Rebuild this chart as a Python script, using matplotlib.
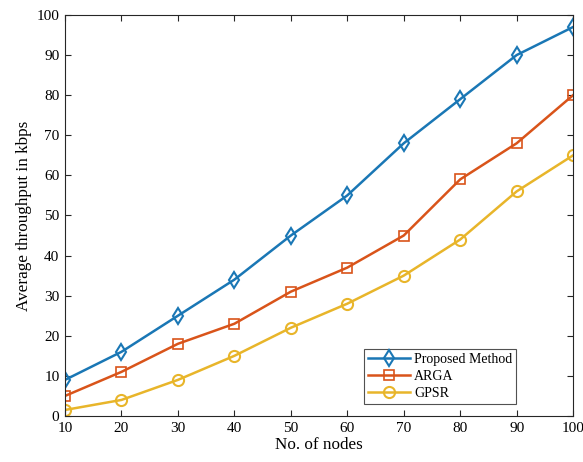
import matplotlib.pyplot as plt

plt.rcParams['font.family'] = ['Liberation Serif', 'DejaVu Serif']

nodes = [10, 20, 30, 40, 50, 60, 70, 80, 90, 100]
proposed = [9, 16, 25, 34, 45, 55, 68, 79, 90, 97]
arga = [5, 11, 18, 23, 31, 37, 45, 59, 68, 80]
gpsr = [1.5, 4, 9, 15, 22, 28, 35, 44, 56, 65]

fig = plt.figure(figsize=(5.83, 4.62), dpi=100)
ax = fig.add_axes([0.1115, 0.0996, 0.8715, 0.868])

ax.plot(nodes, proposed, color='#1a77b5', marker='d', markersize=8,
        markerfacecolor='none', markeredgewidth=1.5, linewidth=1.8, label='Proposed Method')
ax.plot(nodes, arga, color='#d9541a', marker='s', markersize=7,
        markerfacecolor='none', markeredgewidth=1.2, linewidth=1.8, label='ARGA')
ax.plot(nodes, gpsr, color='#e8b52a', marker='o', markersize=8,
        markerfacecolor='none', markeredgewidth=1.5, linewidth=1.8, label='GPSR')

ax.set_xlim(10, 100)
ax.set_ylim(0, 100)
ax.set_xticks(range(10, 101, 10))
ax.set_yticks(range(0, 101, 10))
ax.tick_params(direction='in', top=True, right=True, labelsize=11, length=4,
               color='#262626', pad=4)
for s in ax.spines.values():
    s.set_color('#262626')
    s.set_linewidth(0.8)

ax.set_xlabel('No. of nodes', fontsize=12.3, labelpad=2)
ax.set_ylabel('Average throughput in kbps', fontsize=12.3, labelpad=3)

leg = ax.legend(loc='lower right', bbox_to_anchor=(0.902, 0.012), fontsize=10,
                frameon=True, fancybox=False, edgecolor='#262626',
                handlelength=3.0, borderpad=0.3, labelspacing=0.3, handletextpad=0.3)
leg.get_frame().set_linewidth(0.8)

fig.savefig('out.png', dpi=100)
